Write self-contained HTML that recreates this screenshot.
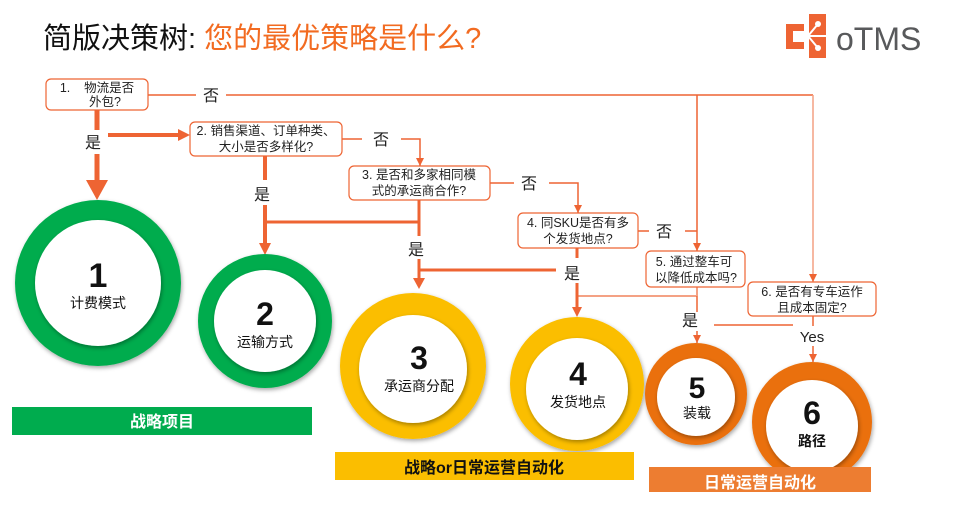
<!DOCTYPE html>
<html><head><meta charset="utf-8"><style>
html,body{margin:0;padding:0;background:#fff;}
svg{display:block;font-family:"Liberation Sans","Noto Sans CJK SC",sans-serif;}
</style></head><body>
<svg width="954" height="516" viewBox="0 0 954 516" xmlns="http://www.w3.org/2000/svg">
<defs>
<marker id="a" markerWidth="8" markerHeight="8" refX="8" refY="4" orient="auto" markerUnits="userSpaceOnUse"><path d="M0,0 L8,4 L0,8 z" fill="#EE6433"/></marker>
<filter id="sh" x="-20%" y="-20%" width="140%" height="140%"><feDropShadow dx="1" dy="2" stdDeviation="2" flood-color="#000" flood-opacity="0.35"/></filter>
</defs>
<text x="43" y="48" font-size="29" fill="#111">简版决策树: <tspan fill="#F26B21">您的最优策略是什么?</tspan></text>
<!-- logo -->
<rect x="786" y="24" width="18" height="25" fill="#EE6433"/>
<rect x="793" y="31" width="11" height="11" fill="#fff"/>
<rect x="809" y="14" width="17" height="44" fill="#EE6433"/>
<circle cx="818" cy="24" r="3" fill="#fff"/><circle cx="818" cy="48" r="3" fill="#fff"/><circle cx="800" cy="36" r="3" fill="#fff"/>
<path d="M818 24 L808 36 L818 48 M800 36 L826 36" stroke="#fff" stroke-width="2" fill="none"/>
<text x="836" y="50" font-size="32" fill="#58595B">oTMS</text>

<g stroke="#EE6433" fill="none" stroke-width="1.5">
<path d="M148 95 H196 M226 95 H813"/>
<path d="M697 95 V251" marker-end="url(#a)"/>
<path d="M813 95 V282" stroke="#F4A184" marker-end="url(#a)"/>
<path d="M342 139 H362 M401 139 H420 V166" marker-end="url(#a)"/>
<path d="M490 183 H514 M549 183 H578 V213" marker-end="url(#a)"/>
<path d="M638 231 H649 M685 231 H697"/>
<path d="M697 287 V296 M577 296 H697" stroke="#F4A184" stroke-width="2"/>
<path d="M697 296 V312"/>
<path d="M697 331 V343" marker-end="url(#a)"/>
<path d="M714 325 H793"/>
<path d="M813 316 V326"/>
<path d="M813 346 V362" marker-end="url(#a)"/>
</g>
<g stroke="#EE6433" fill="none">
<path d="M97 110 V130 M97 154 V182" stroke-width="5"/>
<path d="M86 180 L108 180 L97 200 z" fill="#EE6433" stroke="none"/>
<path d="M108 135 H180" stroke-width="4"/>
<path d="M178 129 L190 135 L178 141 z" fill="#EE6433" stroke="none"/>
<path d="M265 156 V180 M265 205 V245" stroke-width="4"/>
<path d="M259 243 L271 243 L265 255 z" fill="#EE6433" stroke="none"/>
<path d="M265 222 H419" stroke-width="3"/>
<path d="M419 200 V236 M419 259 V280" stroke-width="3"/>
<path d="M413 278 L425 278 L419 289 z" fill="#EE6433" stroke="none"/>
<path d="M419 270 H556" stroke-width="3"/>
<path d="M577 248 V258 M577 283 V309" stroke-width="3"/>
<path d="M572 307 L582 307 L577 317 z" fill="#EE6433" stroke="none"/>
</g>
<g font-size="16" fill="#222" text-anchor="middle">
<text x="211" y="101">否</text>
<text x="381" y="145">否</text>
<text x="529" y="189">否</text>
<text x="664" y="237">否</text>
<text x="93" y="148">是</text>
<text x="262" y="200">是</text>
<text x="416" y="255">是</text>
<text x="572" y="279">是</text>
<text x="690" y="326">是</text>
<text x="812" y="342" font-size="15">Yes</text>
</g>
<g fill="#fff" stroke="#EE6433" stroke-width="1.2">
<rect x="46" y="79" width="102" height="31" rx="5"/>
<rect x="190" y="122" width="152" height="34" rx="5"/>
<rect x="349" y="166" width="141" height="34" rx="5"/>
<rect x="518" y="213" width="120" height="35" rx="5"/>
<rect x="646" y="251" width="99" height="36" rx="5"/>
<rect x="748" y="282" width="128" height="34" rx="5"/>
</g>
<g font-size="12.5" fill="#222" text-anchor="middle">
<text x="97" y="92">1.&#160;&#160;&#160;&#160;物流是否</text><text x="105" y="106">外包?</text>
<text x="266" y="135">2. 销售渠道、订单种类、</text><text x="266" y="151">大小是否多样化?</text>
<text x="419" y="179">3. 是否和多家相同模</text><text x="419" y="195">式的承运商合作?</text>
<text x="578" y="227">4. 同SKU是否有多</text><text x="578" y="243">个发货地点?</text>
<text x="694" y="266">5. 通过整车可</text><text x="696" y="282">以降低成本吗?</text>
<text x="812" y="296">6. 是否有专车运作</text><text x="812" y="312">且成本固定?</text>
</g>
<g filter="url(#sh)">
<circle cx="98" cy="283" r="83" fill="#00AC4E"/>
<circle cx="265" cy="321" r="67" fill="#00AC4E"/>
<circle cx="413" cy="366" r="73" fill="#FBBE00"/>
<circle cx="577" cy="384" r="67" fill="#FBBE00"/>
<circle cx="696" cy="394" r="51" fill="#EA6F0C"/>
<circle cx="812" cy="422" r="60" fill="#EA6F0C"/>
</g>
<g fill="#fff" filter="url(#sh)">
<circle cx="98" cy="283" r="63"/>
<circle cx="265" cy="321" r="51"/>
<circle cx="413" cy="369" r="54"/>
<circle cx="577" cy="389" r="51"/>
<circle cx="696" cy="397" r="39"/>
<circle cx="812" cy="426" r="46"/>
</g>
<g text-anchor="middle" fill="#111">
<text x="98" y="287" font-size="34" font-weight="bold">1</text><text x="98" y="308" font-size="14">计费模式</text>
<text x="265" y="325" font-size="32" font-weight="bold">2</text><text x="265" y="347" font-size="14">运输方式</text>
<text x="419" y="369" font-size="32" font-weight="bold">3</text><text x="419" y="391" font-size="14">承运商分配</text>
<text x="578" y="385" font-size="32" font-weight="bold">4</text><text x="578" y="407" font-size="14">发货地点</text>
<text x="697" y="398" font-size="30" font-weight="bold">5</text><text x="697" y="418" font-size="14">装载</text>
<text x="812" y="424" font-size="32" font-weight="bold">6</text><text x="812" y="446" font-size="14" font-weight="bold">路径</text>
</g>
<rect x="12" y="407" width="300" height="28" fill="#00AC4E"/>
<text x="162" y="427" font-size="16" font-weight="bold" fill="#fff" text-anchor="middle">战略项目</text>
<rect x="335" y="452" width="299" height="28" fill="#FBBE00"/>
<text x="484" y="473" font-size="16" font-weight="bold" fill="#111" text-anchor="middle">战略or日常运营自动化</text>
<rect x="649" y="467" width="222" height="25" fill="#ED7D31"/>
<text x="760" y="488" font-size="16" font-weight="bold" fill="#fff" text-anchor="middle">日常运营自动化</text>
</svg>
</body></html>
